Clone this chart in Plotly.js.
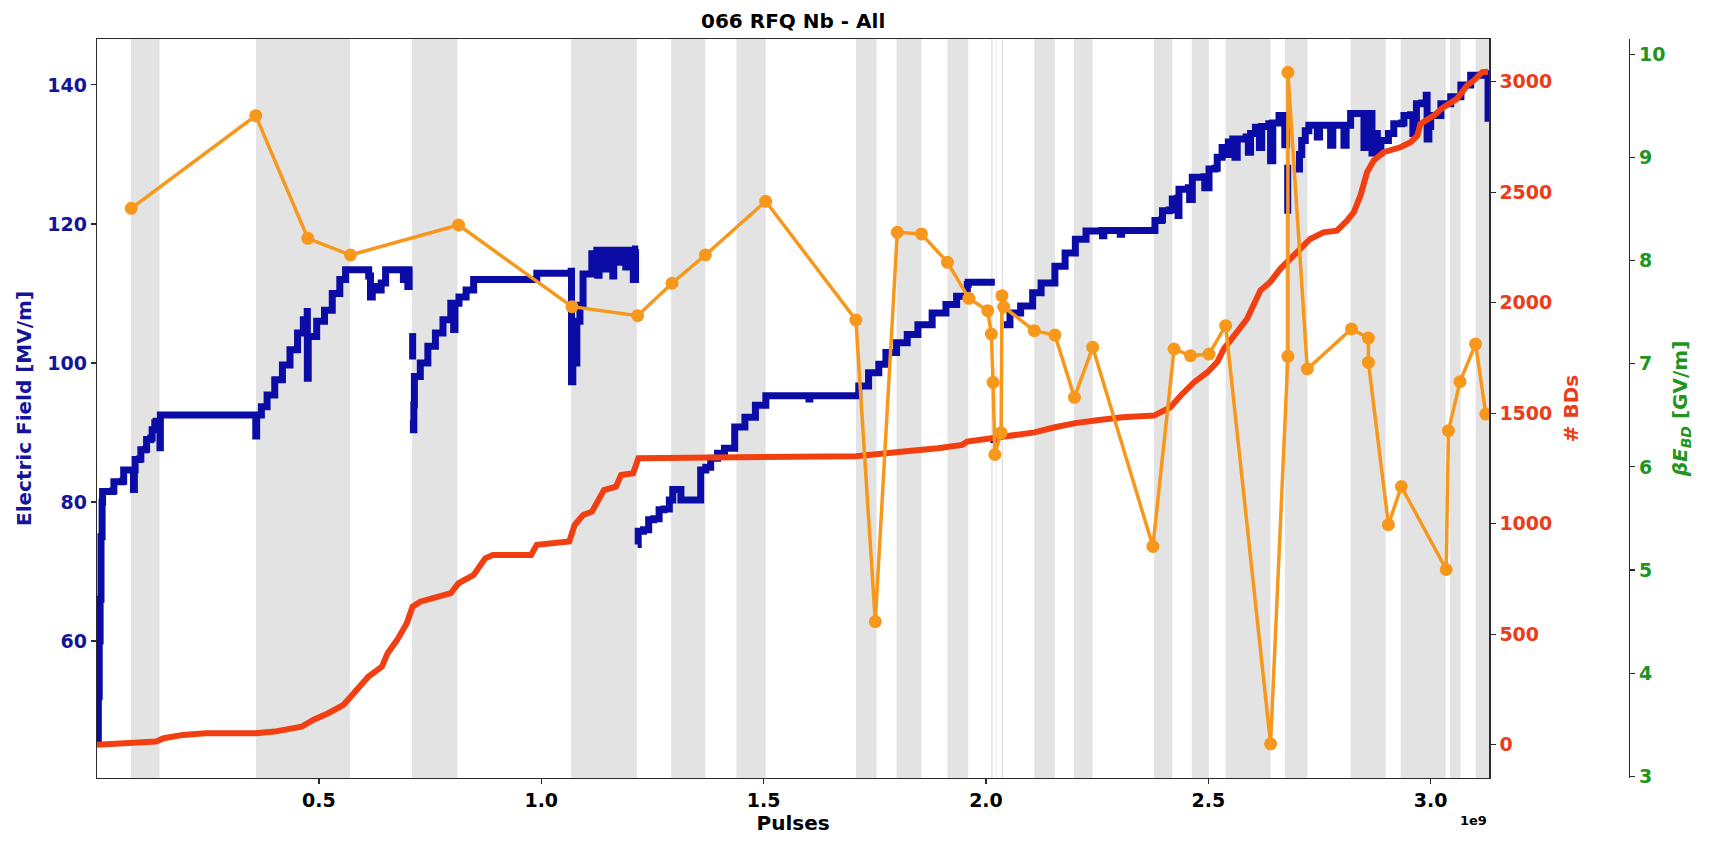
<!DOCTYPE html>
<html>
<head>
<meta charset="utf-8">
<script src="https://cdn.plot.ly/plotly-3.0.1.min.js"></script>
<style>
  html, body { margin: 0; padding: 0; background: #ffffff; }
  #chart { width: 1710px; height: 843px; }
</style>
</head>
<body>
<div id="chart"></div>
<script>
// ---- data (x in units of 1e9 pulses) ----
const bandStart = [0.0773, 0.3584, 0.7091, 1.0673, 1.292, 1.4389, 1.7075, 1.799, 1.9134, 2.0115, 2.0225, 2.0353, 2.1086, 2.1976, 2.378, 2.4627, 2.539, 2.6724, 2.820, 2.9326, 3.0434, 3.1012];
const bandEnd   = [0.1416, 0.5697, 0.8116, 1.2150, 1.369, 1.5047, 1.754, 1.855, 1.960, 2.0150, 2.0240, 2.0385, 2.155, 2.240, 2.419, 2.5016, 2.640, 2.7226, 2.8988, 3.0337, 3.0674, 3.135];

const fieldX = [0.001, 0.004, 0.006, 0.008, 0.010, 0.0125, 0.0135, 0.036, 0.039, 0.058, 0.061, 0.082, 0.083, 0.085, 0.0867, 0.097, 0.0996, 0.110, 0.1125, 0.122, 0.125, 0.131, 0.134, 0.140, 0.1426, 0.1435, 0.357, 0.358, 0.360, 0.3706, 0.3835, 0.4007, 0.418, 0.435, 0.452, 0.465, 0.4737, 0.474, 0.476, 0.478, 0.495, 0.5126, 0.530, 0.547, 0.560, 0.600, 0.612, 0.616, 0.620, 0.628, 0.640, 0.650, 0.680, 0.690, 0.695, 0.700, 0.703, 0.7105, null,
  0.7108, 0.7108, null, 0.7112, 0.7125, 0.7135, 0.7147, 0.728, 0.745, 0.762, 0.779, 0.7966, 0.800, 0.803, 0.806, 0.815, 0.831, 0.848, 0.977, 0.990, 1.0673, 1.068, 1.071, 1.076, 1.080, 1.087, 1.094, 1.1137, 1.125, 1.127, 1.130, 1.143, 1.145, 1.148, 1.160, 1.161, 1.163, 1.175, 1.185, 1.190, 1.200, 1.207, 1.212, 1.218, null,
  1.2167, 1.218, 1.230, 1.2415, 1.253, 1.265, 1.276, 1.288, 1.2957, 1.313, 1.314, 1.3577, 1.3585, 1.370, 1.381, 1.3964, 1.412, 1.435, 1.458, 1.4816, 1.505, 1.600, 1.602, 1.604, 1.712, 1.714, 1.736, 1.759, 1.775, 1.799, 1.823, 1.847, 1.879, 1.910, 1.934, 1.958, 1.960, 2.020, null,
  2.010, 2.018, null,
  2.040, 2.054, 2.078, 2.105, 2.124, 2.155, 2.178, 2.201, 2.225, 2.260, 2.262, 2.265, 2.300, 2.302, 2.305, 2.378, 2.380, 2.395, 2.397, 2.412, 2.419, 2.430, 2.432, 2.434, 2.455, 2.458, 2.464, 2.490, 2.492, 2.5016, 2.515, 2.520, 2.531, 2.540, 2.545, 2.555, 2.560, 2.565, 2.585, 2.590, 2.595, 2.606, 2.615, 2.620, 2.636, 2.640, 2.645, 2.659, 2.670, 2.672, 2.676, null,
  2.6785, 2.6785, null,
  2.6956, 2.705, 2.710, 2.718, 2.726, 2.740, 2.745, 2.750, 2.770, 2.775, 2.780, 2.800, 2.805, 2.810, 2.818, 2.820, 2.845, 2.850, 2.855, 2.865, 2.868, 2.875, 2.880, 2.888, 2.895, 2.905, 2.917, 2.935, 2.940, 2.955, 2.960, 2.968, 2.980, 2.990, 2.992, 2.996, 3.000, 3.023, 3.045, 3.068, 3.090, 3.128, 3.129];
const fieldMVm = [45.5, 52, 60, 66, 75, 80, 81.5, 81.6, 82.9, 83.0, 84.6, 84.6, 81.8, 84.6, 86.1, 86.2, 87.5, 87.6, 89.0, 89.2, 90.4, 91.4, 91.6, 91.5, 87.8, 92.5, 92.5, 89.5, 92.5, 93.7, 95.4, 97.6, 99.7, 101.9, 104.3, 106.2, 107.4, 97.8, 103.8, 103.8, 106.0, 107.6, 110.0, 112.0, 113.4, 113.4, 112.5, 109.5, 111.0, 110.5, 111.5, 113.4, 113.4, 112.0, 113.4, 111.0, 113.4, 113.4, null,
  104.3, 100.5, null, 91.8, 90.4, 94.0, 98.05, 100.0, 102.4, 104.3, 106.2, 108.6, 108.6, 104.8, 108.6, 109.5, 110.5, 112.0, 112.0, 112.9, 113.2, 97.3, 104.0, 100.0, 106.0, 108.3, 112.8, 115.7, 116.2, 112.6, 116.2, 116.2, 113.5, 116.2, 116.2, 112.5, 116.2, 114.5, 116.2, 113.8, 116.2, 112.0, 116.4, 116.4, null,
  73.9, 75.8, 76.0, 77.45, 77.6, 78.9, 79.0, 80.3, 81.8, 81.8, 80.3, 80.3, 84.6, 85.0, 86.3, 87.0, 87.75, 90.78, 92.2, 93.9, 95.3, 95.3, 94.8, 95.3, 95.3, 96.7, 98.6, 99.8, 101.5, 102.9, 104.1, 105.5, 107.2, 108.4, 109.6, 111.3, 111.6, 111.6, null,
  89.0, 89.5, null,
  105.5, 107.2, 108.2, 110.1, 111.5, 113.9, 115.8, 117.8, 119.0, 119.05, 118.3, 119.05, 119.05, 118.5, 119.05, 119.1, 120.5, 120.6, 121.9, 122.0, 123.6, 123.7, 121.2, 125.0, 125.2, 123.5, 126.7, 126.8, 125.2, 127.9, 128.0, 129.6, 131.0, 130.0, 131.8, 132.2, 129.6, 132.2, 132.5, 130.3, 133.0, 133.9, 131.0, 134.0, 134.4, 129.1, 134.5, 135.6, 135.6, 131.4, 135.0, null,
  128.5, 121.45, null,
  127.9, 130.0, 132.0, 133.4, 134.2, 134.2, 132.5, 134.2, 134.2, 131.3, 134.2, 134.2, 131.3, 134.2, 134.2, 135.9, 135.9, 131.0, 135.9, 135.9, 130.2, 133.0, 130.2, 132.0, 132.0, 133.0, 134.4, 134.5, 135.6, 135.7, 133.0, 137.3, 137.4, 138.5, 132.2, 134.0, 135.6, 137.3, 138.3, 140.0, 141.4, 141.6, 134.7];

const bdX = [0.001, 0.0738, 0.134, 0.151, 0.194, 0.246, 0.358, 0.4007, 0.461, 0.487, 0.521, 0.5555, 0.5814, 0.6115, 0.6417, 0.6545, 0.676, 0.6976, 0.7105, 0.7277, 0.7966, 0.8136, 0.848, 0.874, 0.891, 0.977, 0.990, 1.063, 1.075, 1.094, 1.114, 1.133, 1.141, 1.168, 1.1796, 1.2066, 1.2184, 1.7075, 1.7756, 1.8145, 1.892, 1.946, 1.9575, 2.008, 2.109, 2.155, 2.201, 2.250, 2.307, 2.378, 2.415, 2.438, 2.468, 2.498, 2.520, 2.535, 2.557, 2.587, 2.617, 2.639, 2.662, 2.692, 2.729, 2.759, 2.789, 2.812, 2.827, 2.842, 2.857, 2.872, 2.894, 2.932, 2.955, 2.970, 2.977, 3.007, 3.029, 3.059, 3.082, 3.097, 3.116, 3.129];
const bdCount = [0, 6, 14, 29, 44, 52, 52, 59, 81, 112, 142, 180, 240, 308, 353, 414, 474, 549, 624, 647, 685, 730, 768, 843, 858, 858, 904, 919, 994, 1039, 1054, 1122, 1152, 1167, 1220, 1228, 1296, 1305, 1315, 1326, 1341, 1356, 1371, 1383, 1413, 1436, 1455, 1468, 1481, 1489, 1527, 1580, 1640, 1685, 1731, 1791, 1852, 1926, 2055, 2093, 2153, 2213, 2288, 2318, 2326, 2371, 2409, 2484, 2590, 2643, 2681, 2703, 2726, 2756, 2809, 2847, 2885, 2922, 2983, 3005, 3043, 3045];

const betaX = [0.078, 0.358, 0.475, 0.571, 0.814, 1.069, 1.2167, 1.294, 1.369, 1.5047, 1.7075, 1.7511, 1.8006, 1.855, 1.9134, 1.9616, 2.004, 2.012, 2.016, 2.020, 2.034, 2.036, 2.040, 2.1086, 2.155, 2.199, 2.240, 2.3754, 2.423, 2.460, 2.5016, 2.539, 2.640, 2.679, 2.679, 2.7226, 2.822, 2.860, 2.860, 2.905, 2.934, 3.035, 3.040, 3.066, 3.101, 3.124];
const betaEbd = [8.507, 9.405, 8.216, 8.054, 8.345, 7.553, 7.466, 7.780, 8.054, 8.575, 7.424, 4.50, 8.274, 8.258, 7.983, 7.634, 7.514, 7.288, 6.82, 6.12, 6.33, 7.66, 7.55, 7.32, 7.278, 6.674, 7.16, 5.229, 7.143, 7.078, 7.094, 7.369, 3.315, 7.072, 9.825, 6.949, 7.337, 7.249, 7.013, 5.44, 5.81, 5.005, 6.351, 6.826, 7.191, 6.512];

const xTicks = [0.5, 1.0, 1.5, 2.0, 2.5, 3.0];
const xTickText = ['0.5', '1.0', '1.5', '2.0', '2.5', '3.0'];
const fieldTicks = [60, 80, 100, 120, 140];
const bdTicks = [0, 500, 1000, 1500, 2000, 2500, 3000];
const betaTicks = [3, 4, 5, 6, 7, 8, 9, 10];

// ---- styles ----
const FONT = 'DejaVu Sans, Liberation Sans, sans-serif';
const BLUE = '#0b0ba6';
const RED = '#f23f12';
const ORANGE = '#f7981d';
const BLUE_TXT = '#14149a';
const RED_TXT = '#ec3d1a';
const GREEN_TXT = '#1f951f';
const SPINE = '#2b2b2b';
const XDOM = 0.9088;

const traces = [
  { x: fieldX, y: fieldMVm, type: 'scatter', mode: 'lines', connectgaps: false,
    line: { color: BLUE, width: 7, shape: 'hv' }, xaxis: 'x', yaxis: 'y', hoverinfo: 'skip', showlegend: false },
  { x: bdX, y: bdCount, type: 'scatter', mode: 'lines',
    line: { color: RED, width: 6 }, xaxis: 'x', yaxis: 'y2', hoverinfo: 'skip', showlegend: false },
  { x: betaX, y: betaEbd, type: 'scatter', mode: 'lines+markers',
    line: { color: ORANGE, width: 3.5 }, marker: { color: ORANGE, size: 13 },
    xaxis: 'x', yaxis: 'y3', hoverinfo: 'skip', showlegend: false }
];

const shapes = bandStart.map((s, i) => ({
  type: 'rect', xref: 'x', yref: 'paper', x0: s, x1: bandEnd[i], y0: 0, y1: 1,
  fillcolor: '#e3e3e3', line: { width: 0 }, layer: 'below'
}));

const tickFont = (c) => ({ family: FONT, size: 19, color: c, weight: 'bold' });
const titleFont = (c) => ({ family: FONT, size: 20, color: c, weight: 'bold' });

const layout = {
  width: 1710, height: 843,
  margin: { l: 97, r: 81, t: 39, b: 65, pad: 0 },
  paper_bgcolor: '#ffffff', plot_bgcolor: 'rgba(0,0,0,0)',
  title: { text: '066 RFQ Nb - All', font: titleFont('#000000'),
           xref: 'paper', x: XDOM / 2, xanchor: 'center', yref: 'container', y: 0.975, yanchor: 'middle' },
  xaxis: {
    domain: [0, XDOM], range: [0.001, 3.1318], tickvals: xTicks, ticktext: xTickText,
    showgrid: false, zeroline: false, showline: true, mirror: true, linecolor: SPINE, linewidth: 1.3,
    ticks: 'outside', ticklen: 5, tickwidth: 1.2, tickcolor: SPINE, tickfont: tickFont('#000000'),
    title: { text: 'Pulses', font: titleFont('#000000'), standoff: 6 }, automargin: false
  },
  yaxis: {
    range: [40.3, 146.6], tickvals: fieldTicks, showgrid: false, zeroline: false,
    showline: true, mirror: true, linecolor: SPINE, linewidth: 1.3,
    ticks: 'outside', ticklen: 5, tickwidth: 1.2, tickcolor: SPINE, tickfont: tickFont(BLUE_TXT),
    title: { text: 'Electric Field [MV/m]', font: titleFont(BLUE_TXT), standoff: 10 }, automargin: false
  },
  yaxis2: {
    overlaying: 'y', side: 'right', anchor: 'x', range: [-151, 3193], tickvals: bdTicks,
    showgrid: false, zeroline: false, showline: true, linecolor: SPINE, linewidth: 1.3,
    ticks: 'outside', ticklen: 5, tickwidth: 1.2, tickcolor: SPINE, tickfont: tickFont(RED_TXT),
    title: { text: '# BDs', font: titleFont(RED_TXT), standoff: 12 }, automargin: false
  },
  yaxis3: {
    overlaying: 'y', side: 'right', anchor: 'free', position: 1, range: [2.984, 10.148], tickvals: betaTicks,
    showgrid: false, zeroline: false, showline: true, linecolor: SPINE, linewidth: 1.3,
    ticks: 'outside', ticklen: 5, tickwidth: 1.2, tickcolor: SPINE, tickfont: tickFont(GREEN_TXT),
    title: { text: '<i>βE</i><sub><i>BD</i></sub> [GV/m]', font: titleFont(GREEN_TXT), standoff: 8 }, automargin: false
  },
  shapes: shapes,
  annotations: [
    { text: '1e9', xref: 'paper', yref: 'paper', x: XDOM, y: -0.057, xanchor: 'right', yanchor: 'middle',
      showarrow: false, font: { family: FONT, size: 13, color: '#000000', weight: 'bold' } }
  ]
};

Plotly.newPlot('chart', traces, layout, { staticPlot: true, displayModeBar: false });
</script>
</body>
</html>
